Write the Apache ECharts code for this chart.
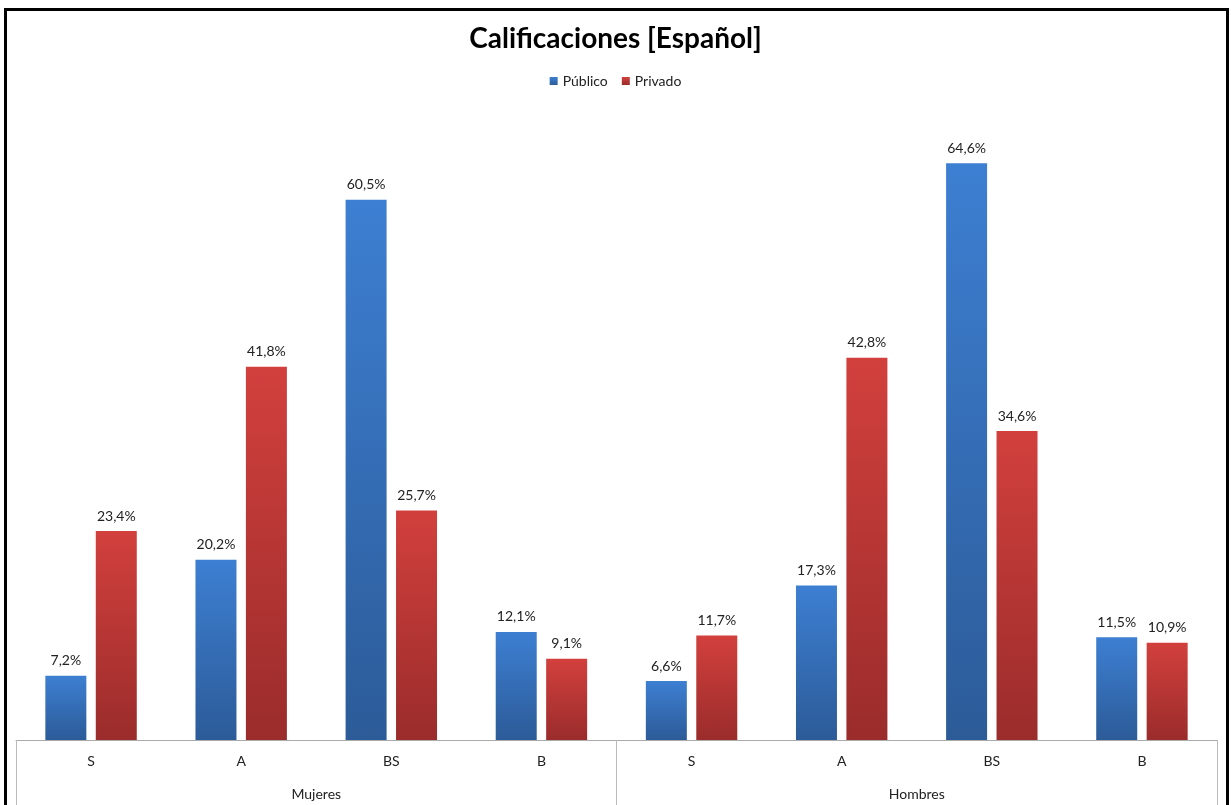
<!DOCTYPE html>
<html>
<head>
<meta charset="utf-8">
<script src="https://cdn.jsdelivr.net/npm/echarts@6/dist/echarts.min.js"></script>
<style>
html,body{margin:0;padding:0;background:#fff;}
#chart{width:1231px;height:805px;}
</style>
</head>
<body>
<div id="chart"></div>
<script>
const categories = ["S", "A", "BS", "B", "S", "A", "BS", "B"];
const groups = ["Mujeres", "Hombres"];
const seriesNames = ["Público", "Privado"];
const publico = [7.2, 20.2, 60.5, 12.1, 6.6, 17.3, 64.6, 11.5];
const privado = [23.4, 41.8, 25.7, 9.1, 11.7, 42.8, 34.6, 10.9];

const chart = echarts.init(document.getElementById('chart'));
const fontFam = 'Lato, "Open Sans", sans-serif';
function grad(top, bottom) {
  return new echarts.graphic.LinearGradient(0, 0, 0, 1, [
    {offset: 0, color: top}, {offset: 1, color: bottom}
  ]);
}
const labelCfg = {
  show: true, position: 'top', distance: 8,
  fontFamily: fontFam, fontSize: 14, color: '#222',
  formatter: p => p.value.toFixed(1).replace('.', ',') + '%'
};
chart.setOption({
  animation: false,
  backgroundColor: '#fff',
  title: {
    text: 'Calificaciones [Español]',
    left: 'center', top: 20,
    textStyle: {fontFamily: fontFam, fontWeight: 'bold', fontSize: 28, color: '#000'}
  },
  legend: {
    data: seriesNames, top: 69, left: 'center', icon: 'rect',
    itemWidth: 8, itemHeight: 8, itemGap: 14,
    textStyle: {fontFamily: fontFam, fontSize: 14, color: '#222'}
  },
  graphic: [{
    type: 'rect', shape: {x: 5.5, y: 9.5, width: 1222, height: 810},
    style: {fill: 'none', stroke: '#000', lineWidth: 3}, silent: true
  }],
  grid: {left: 16, right: 14, top: 115, bottom: 65, containLabel: false},
  xAxis: [{
    type: 'category', data: categories, position: 'bottom',
    axisLine: {show: true, lineStyle: {color: '#aaa', width: 1}},
    axisTick: {show: false},
    axisLabel: {margin: 14, fontFamily: fontFam, fontSize: 14, color: '#222'}
  }, {
    type: 'category', data: groups, position: 'bottom',
    axisLine: {show: false},
    axisTick: {show: true, length: 70, lineStyle: {color: '#bbb', width: 1}},
    axisLabel: {margin: 47, fontFamily: fontFam, fontSize: 14, color: '#222'}
  }],
  yAxis: {
    type: 'value', min: 0, max: 70, show: false,
    splitLine: {show: false}
  },
  series: [{
    name: seriesNames[0], type: 'bar', data: publico,
    barWidth: 41, barGap: '23%',
    itemStyle: {color: grad('#3d7fd2', '#2c5b98')},
    label: labelCfg
  }, {
    name: seriesNames[1], type: 'bar', data: privado,
    barWidth: 41, barGap: '23%',
    itemStyle: {color: grad('#d2403d', '#9a2c2b')},
    label: labelCfg
  }]
});
</script>
</body>
</html>
